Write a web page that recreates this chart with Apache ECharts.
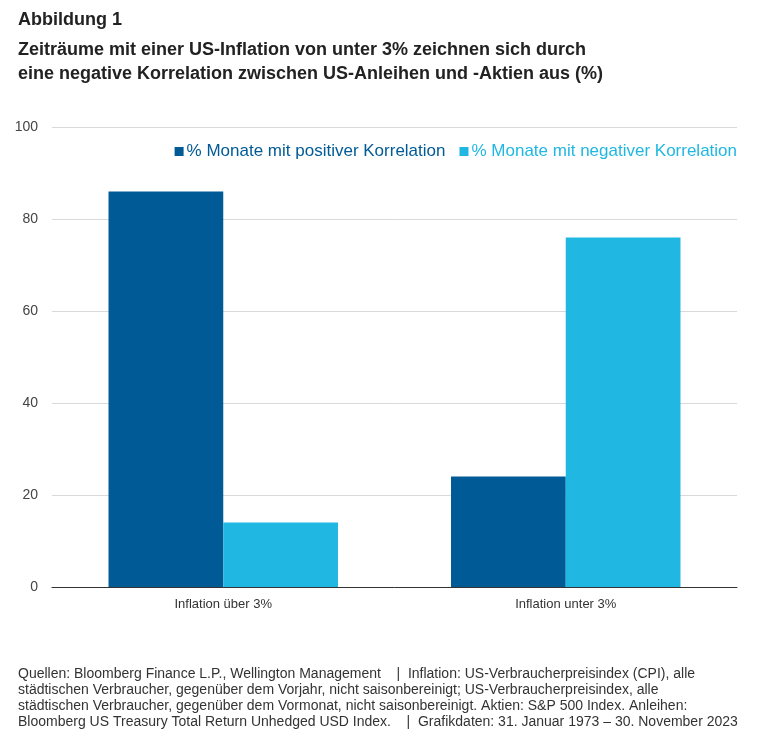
<!DOCTYPE html>
<html>
<head>
<meta charset="utf-8">
<script src="https://cdn.jsdelivr.net/npm/echarts@6/dist/echarts.min.js"></script>
<style>
  html, body { margin: 0; padding: 0; background: #fff; }
  #chart { width: 767px; height: 745px; }
</style>
</head>
<body>
<div id="chart"></div>
<script>
// Daten
const categories = ['Inflation über 3%', 'Inflation unter 3%']
const positiveValues = [86, 24]
const negativeValues = [14, 76]
const seriesNames = ['% Monate mit positiver Korrelation', '% Monate mit negativer Korrelation']

const font = '"Liberation Sans", Arial, sans-serif'
const darkBlue = '#005a96'
const lightBlue = '#20b8e2'

const chart = echarts.init(document.getElementById('chart'))
const option = {
  backgroundColor: '#fff',
  textStyle: { fontFamily: font },
  title: [
    {
      text: 'Abbildung 1',
      left: 13, top: 6,
      textStyle: { fontFamily: font, fontSize: 18, fontWeight: 'bold', color: '#222' }
    },
    {
      text: 'Zeiträume mit einer US-Inflation von unter 3% zeichnen sich durch\neine negative Korrelation zwischen US-Anleihen und -Aktien aus (%)',
      left: 13, top: 33,
      textStyle: { fontFamily: font, fontSize: 18, fontWeight: 'bold', color: '#222', lineHeight: 24 }
    },
    {
      text: 'Quellen: Bloomberg Finance L.P., Wellington Management    |  Inflation: US-Verbraucherpreisindex (CPI), alle\nstädtischen Verbraucher, gegenüber dem Vorjahr, nicht saisonbereinigt; US-Verbraucherpreisindex, alle\nstädtischen Verbraucher, gegenüber dem Vormonat, nicht saisonbereinigt. Aktien: S&P 500 Index. Anleihen:\nBloomberg US Treasury Total Return Unhedged USD Index.    |  Grafikdaten: 31. Januar 1973 – 30. November 2023',
      left: 13, top: 661,
      textStyle: { fontFamily: font, fontSize: 14, fontWeight: 'normal', color: '#333', lineHeight: 16 }
    }
  ],
  legend: {
    right: 25, top: 138,
    itemWidth: 9, itemHeight: 9, itemGap: 14,
    icon: 'rect',
    data: [
      { name: seriesNames[0], textStyle: { color: darkBlue } },
      { name: seriesNames[1], textStyle: { color: lightBlue } }
    ],
    textStyle: { fontFamily: font, fontSize: 17, padding: [0, 0, 0, -2] }
  },
  grid: { left: 52, right: 30, top: 127, bottom: 158 },
  xAxis: {
    type: 'category',
    data: categories,
    axisLine: { lineStyle: { color: '#333', width: 1 } },
    axisTick: { show: false },
    axisLabel: { fontFamily: font, fontSize: 13, color: '#333', margin: 11 }
  },
  yAxis: {
    type: 'value',
    min: 0, max: 100, interval: 20,
    axisLine: { show: false },
    axisTick: { show: false },
    axisLabel: { fontFamily: font, fontSize: 14, color: '#444', margin: 14 },
    splitLine: { lineStyle: { color: '#d9d9d9' } }
  },
  series: [
    {
      name: seriesNames[0],
      type: 'bar',
      data: positiveValues,
      itemStyle: { color: darkBlue },
      barGap: '0%',
      barCategoryGap: '33%'
    },
    {
      name: seriesNames[1],
      type: 'bar',
      data: negativeValues,
      itemStyle: { color: lightBlue },
      barGap: '0%',
      barCategoryGap: '33%'
    }
  ]
}
chart.setOption(option)
</script>
</body>
</html>
